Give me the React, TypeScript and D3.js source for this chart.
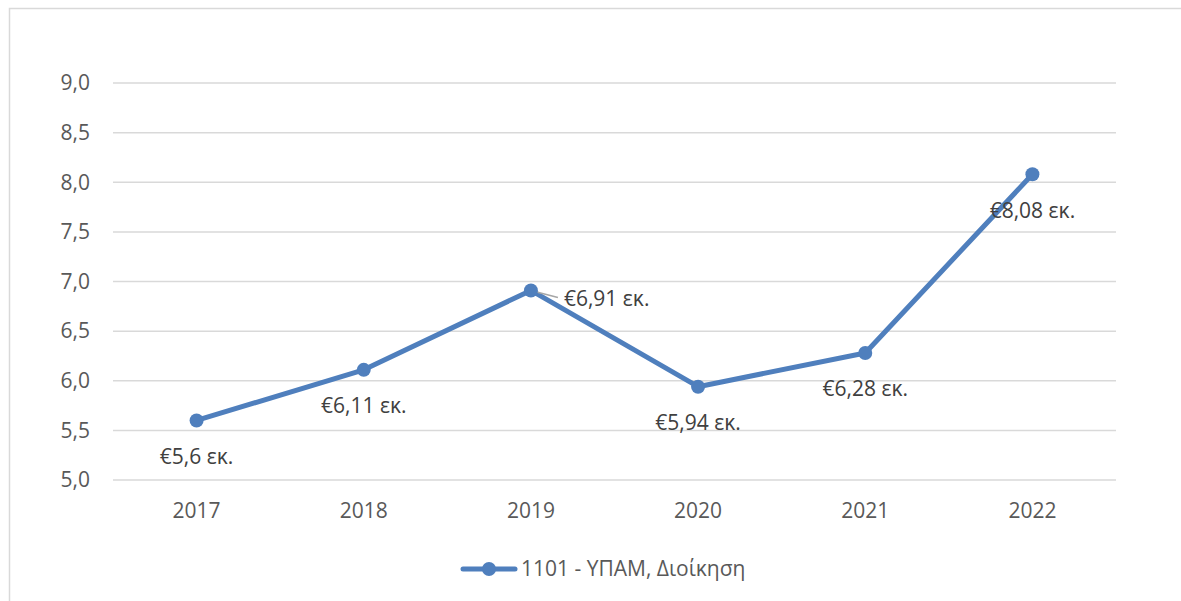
import React from "react";
import * as d3 from "d3";

const years = ["2017", "2018", "2019", "2020", "2021", "2022"];
const values = [5.6, 6.11, 6.91, 5.94, 6.28, 8.08];
const valueLabels = ["€5,6 εκ.", "€6,11 εκ.", "€6,91 εκ.", "€5,94 εκ.", "€6,28 εκ.", "€8,08 εκ."];
const yTicks = [5.0, 5.5, 6.0, 6.5, 7.0, 7.5, 8.0, 8.5, 9.0];
const seriesName = "1101 - ΥΠΑΜ, Διοίκηση";

const width = 1181,
  height = 601;
const font = "'Open Sans', 'Noto Sans', sans-serif";
const textColor = "#595959";
const lineColor = "#4f7fbd";
const fs = 21;

export default function App() {
  const x = d3.scaleBand().domain(years).range([113, 1116]);
  const y = d3.scaleLinear().domain([5, 9]).range([480, 83]);

  const cx = (d: string) => (x(d) || 0) + x.bandwidth() / 2;

  const line = d3
    .line<number>()
    .x((_, i) => cx(years[i]))
    .y((d) => y(d));

  const fmt = (v: number) => d3.format(".1f")(v).replace(".", ",");

  return (
    <svg
      width={width}
      height={height}
      style={{ position: "absolute", left: 0, top: 0 }}
      fontFamily={font}
    >
      <rect x={0} y={0} width={width} height={height} fill="white" />
      <rect x={9.5} y={8.5} width={width + 20} height={height + 20} fill="none" stroke="#d9d9d9" strokeWidth={1.5} />

      {yTicks.map((t) => (
        <g key={t}>
          <line x1={113} x2={1116} y1={y(t)} y2={y(t)} stroke="#d9d9d9" strokeWidth={1.5} />
          <text x={90} y={y(t)} dy="0.35em" textAnchor="end" fontSize={fs} fill={textColor}>
            {fmt(t)}
          </text>
        </g>
      ))}

      {years.map((yr) => (
        <text key={yr} x={cx(yr)} y={511} dy="0.35em" textAnchor="middle" fontSize={fs} fill={textColor}>
          {yr}
        </text>
      ))}

      <path d={line(values) || ""} fill="none" stroke={lineColor} strokeWidth={5} strokeLinejoin="round" />

      {/* leader line for 2019 label */}
      <line x1={cx("2019")} y1={y(values[2])} x2={cx("2019") + 27} y2={y(values[2]) + 7} stroke="#a6a6a6" strokeWidth={1.5} />

      {values.map((v, i) => (
        <circle key={i} cx={cx(years[i])} cy={y(v)} r={7} fill={lineColor} />
      ))}

      {values.map((v, i) =>
        i === 2 ? (
          <text key={i} x={cx(years[i]) + 33} y={y(v) + 8} dy="0.35em" textAnchor="start" fontSize={fs} fill="#404040">
            {valueLabels[i]}
          </text>
        ) : (
          <text key={i} x={cx(years[i])} y={y(v) + 36} dy="0.35em" textAnchor="middle" fontSize={fs} fill="#404040">
            {valueLabels[i]}
          </text>
        )
      )}

      <g>
        <line x1={463} x2={515} y1={569} y2={569} stroke={lineColor} strokeWidth={5} strokeLinecap="round" />
        <circle cx={489} cy={569} r={7} fill={lineColor} />
        <text x={521} y={569} dy="0.35em" fontSize={fs} fill={textColor}>
          {seriesName}
        </text>
      </g>
    </svg>
  );
}
